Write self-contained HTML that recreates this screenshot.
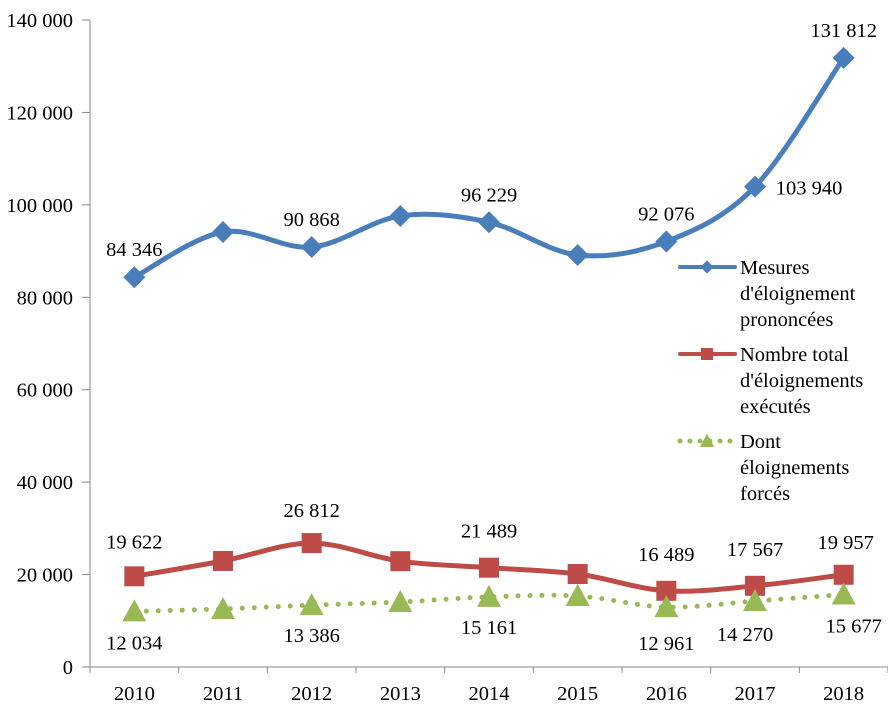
<!DOCTYPE html>
<html><head><meta charset="utf-8"><style>
body{margin:0;background:#fff}
svg text{font-family:"Liberation Serif",serif;font-size:20.5px;fill:#000}
</style></head><body>
<svg id="c" width="888" height="713"></svg>
<script>
const years=["2010","2011","2012","2013","2014","2015","2016","2017","2018"];
const mesures=[84346,94130,90868,97590,96229,89150,92076,103940,131812];
const executes=[19622,22940,26812,22900,21489,20120,16489,17567,19957];
const forces=[12034,12550,13386,14060,15161,15360,12961,14270,15677];
const yTicks=[0,20000,40000,60000,80000,100000,120000,140000];
const mesLabels=[0,2,4,6,7,8];
const exeLabels=[0,2,4,6,7,8];
const forLabels=[0,2,4,6,7,8];
const NS="http://www.w3.org/2000/svg";
const svg=document.getElementById('c');
const X0=90,X1=888,Y0=667,Y1=20;
const bw=(X1-X0)/years.length;
const x=i=>X0+bw*(i+0.5);
const y=v=>Y0-(v/140000)*(Y0-Y1);
const fmt=v=>String(v).replace(/\B(?=(\d{3})+(?!\d))/g,' ');
function el(t,a,p){const e=document.createElementNS(NS,t);for(const k in a)e.setAttribute(k,a[k]);(p||svg).appendChild(e);return e;}
function txt(s,xx,yy,anchor){const t=el('text',{x:xx,y:yy,'text-anchor':anchor||'middle'});t.textContent=s;return t;}
const axis=el('g',{});


el('line',{x1:X0,y1:Y1,x2:X0,y2:Y0,stroke:'#888','stroke-width':1},axis);
el('line',{x1:X0,y1:Y0,x2:X1,y2:Y0,stroke:'#888','stroke-width':1},axis);
yTicks.forEach(v=>{el('line',{x1:X0-8,y1:y(v),x2:X0,y2:y(v),stroke:'#888'},axis);
 const t=txt(fmt(v),X0-17,y(v)+7,'end');
 
 });
for(let i=0;i<=years.length;i++)el('line',{x1:X0+bw*i,y1:Y0,x2:X0+bw*i,y2:Y0+6,stroke:'#888'},axis);
years.forEach((yr,i)=>{const t=txt(yr,x(i),Y0+33);
 
 });
function path(vals){const p=vals.map((v,i)=>[x(i),y(v)]);let d=`M${p[0][0]},${p[0][1]}`;
 for(let i=0;i<p.length-1;i++){const a=p[i-1]||p[i],b=p[i],c=p[i+1],e=p[i+2]||c;
 const k=1/6;d+=` C${b[0]+(c[0]-a[0])*k},${b[1]+(c[1]-a[1])*k} ${c[0]-(e[0]-b[0])*k},${c[1]-(e[1]-b[1])*k} ${c[0]},${c[1]}`;}return d;}
function marker(type,cx,cy,color,g){
 if(type==='d')return el('polygon',{points:`${cx},${cy-11} ${cx+11},${cy} ${cx},${cy+11} ${cx-11},${cy}`,fill:color},g);
 if(type==='s')return el('rect',{x:cx-10,y:cy-10,width:20,height:20,fill:color},g);
 return el('polygon',{points:`${cx},${cy-12} ${cx+12},${cy+10} ${cx-12},${cy+10}`,fill:color},g);}
function series(vals,color,type,dash,name){const g=el('g',{});
 
 
 el('path',{d:path(vals),fill:'none',stroke:color,'stroke-width':5,'stroke-dasharray':dash?'0 12':'none','stroke-linecap':'round'},g);
 vals.forEach((v,i)=>{const m=marker(type,x(i),y(v),color,g);
  
  });}
series(mesures,'#4a7ebb','d',false,'series-mesures');
series(executes,'#be4b48','s',false,'series-executes');
series(forces,'#98b954','t',true,'series-forces');
mesLabels.forEach(i=>{const dy=(i===7)?[54,8]:[0,-21];const t=txt(fmt(mesures[i]),x(i)+dy[0],y(mesures[i])+dy[1]);
 
 });
exeLabels.forEach(i=>{const t=txt(fmt(executes[i]),x(i)+(i===8?2:0),y(executes[i])-(i===0?28:i===2?26:i===8?26:30));
 
 });
forLabels.forEach(i=>{const t=txt(fmt(forces[i]),x(i)+(i===7?-10:i===8?10:0),y(forces[i])+(i===0?38:i===2?37:i===4?37:i===6?43:i===7?40:38));
 
 });
const leg=[["Mesures","d'éloignement","prononcées"],["Nombre total","d'éloignements","exécutés"],["Dont","éloignements","forcés"]];
const legC=['#4a7ebb','#be4b48','#98b954'],legT=['d','s','t'],legY=[267,354,441];
leg.forEach((lines,k)=>{const g=el('g',{});
 
 
 el('line',{x1:680,y1:legY[k],x2:735,y2:legY[k],stroke:legC[k],'stroke-width':k===2?5:4,'stroke-dasharray':k===2?'0 10':'none','stroke-linecap':'round'},g);
 marker(legT[k],707,legY[k],legC[k],g).setAttribute('transform',`translate(${707*0.4},${legY[k]*0.4}) scale(0.6)`);
 lines.forEach((s,j)=>{const t=txt(s,740,legY[k]+7+j*26,'start');g.appendChild(t);});});
</script>
</body></html>
